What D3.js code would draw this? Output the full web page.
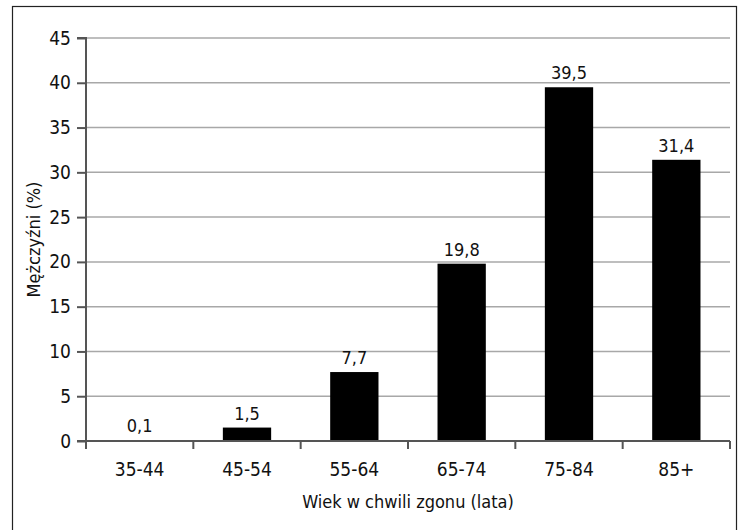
<!DOCTYPE html>
<html><head><meta charset="utf-8">
<script src="https://cdn.jsdelivr.net/npm/d3@7"></script>
<style>
html,body{margin:0;padding:0;background:#fff;}
svg{display:block;}
text{font-family:"Liberation Sans Narrow","Arial Narrow","DejaVu Sans Condensed",sans-serif;fill:#111;}
</style></head>
<body>
<script>
const categories = ["35-44","45-54","55-64","65-74","75-84","85+"];
const values = [0.1, 1.5, 7.7, 19.8, 39.5, 31.4];
const valueLabels = ["0,1","1,5","7,7","19,8","39,5","31,4"];
const yTicks = [0,5,10,15,20,25,30,35,40,45];
const xTitle = "Wiek w chwili zgonu (lata)";
const yTitle = "Mężczyźni (%)";

(function () {
const W = 742, H = 530;
const svg = d3.select("body").append("svg").attr("width", W).attr("height", H);

svg.append("rect").attr("x", 12.5).attr("y", 6.5).attr("width", 724).attr("height", 530)
  .attr("fill", "#fff").attr("stroke", "#222").attr("stroke-width", 1.2);

const mLeft = 86, mRight = 730, mTop = 38, mBottom = 441;
const x = d3.scaleBand().domain(categories).range([mLeft, mRight]).paddingInner(0.55).paddingOuter(0.275);
const y = d3.scaleLinear().domain([0, 45]).range([mBottom, mTop]);

// gridlines
svg.append("g").selectAll("line").data(yTicks.filter(d => d > 0)).join("line")
  .attr("x1", mLeft).attr("x2", mRight)
  .attr("y1", d => y(d)).attr("y2", d => y(d))
  .attr("stroke", "#a8a8a8").attr("stroke-width", 1.5);

// bars
svg.append("g").selectAll("rect").data(values).join("rect")
  .attr("x", (d, i) => x(categories[i]))
  .attr("width", x.bandwidth())
  .attr("y", d => y(d))
  .attr("height", d => Math.max(1.5, mBottom - y(d)))
  .attr("fill", "#000");

// value labels
svg.append("g").selectAll("text").data(values).join("text")
  .attr("x", (d, i) => x(categories[i]) + x.bandwidth() / 2)
  .attr("y", d => y(d) - 8)
  .attr("text-anchor", "middle")
  .attr("font-size", 18)
  .text((d, i) => valueLabels[i]);

// y axis
const yAxis = d3.axisLeft(y).tickValues(yTicks).tickSize(9).tickPadding(6).tickFormat(d3.format("d"));
const gy = svg.append("g").attr("transform", `translate(${mLeft},0)`).call(yAxis);
gy.select(".domain").attr("stroke", "#555").attr("stroke-width", 2).attr("d", `M-9,${mTop}H0V${mBottom}`);
gy.selectAll(".tick line").attr("stroke", "#555").attr("stroke-width", 2);
gy.selectAll(".tick text").attr("font-size", 19).attr("fill", "#111")
  .attr("font-family", "'Liberation Sans Narrow','DejaVu Sans Condensed',sans-serif");

// x axis
const xEdge = d3.scaleLinear().domain([0, categories.length]).range([mLeft, mRight]);
const gx = svg.append("g");
gx.append("line").attr("x1", mLeft - 9).attr("x2", mRight).attr("y1", mBottom).attr("y2", mBottom)
  .attr("stroke", "#555").attr("stroke-width", 2);
gx.selectAll("line.tk").data(d3.range(categories.length + 1)).join("line").attr("class", "tk")
  .attr("x1", d => xEdge(d)).attr("x2", d => xEdge(d))
  .attr("y1", mBottom).attr("y2", mBottom + 8)
  .attr("stroke", "#555").attr("stroke-width", 2);
gx.selectAll("text").data(categories).join("text")
  .attr("x", d => x(d) + x.bandwidth() / 2)
  .attr("y", 476)
  .attr("text-anchor", "middle")
  .attr("font-size", 19)
  .text(d => d);

// titles
svg.append("text").attr("x", (mLeft + mRight) / 2).attr("y", 508)
  .attr("text-anchor", "middle").attr("font-size", 18).text(xTitle);
svg.append("text").attr("transform", `translate(40,${(mTop + mBottom) / 2}) rotate(-90)`)
  .attr("text-anchor", "middle").attr("font-size", 18).text(yTitle);
})();
</script>
</body></html>
